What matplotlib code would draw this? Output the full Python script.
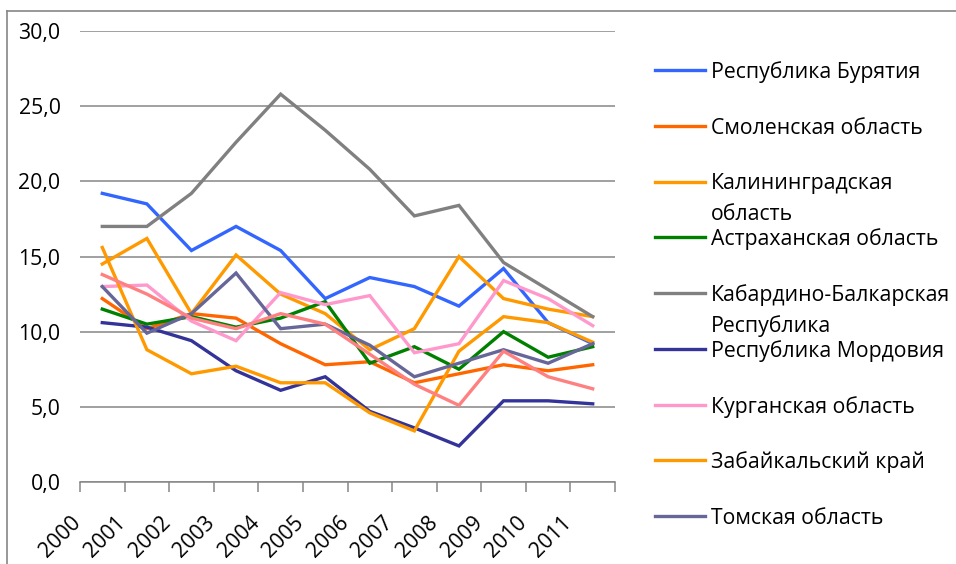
import numpy as np
import matplotlib
matplotlib.use("Agg")
import matplotlib.pyplot as plt
from matplotlib.lines import Line2D
from matplotlib.ticker import FuncFormatter

plt.rcParams['font.family'] = ['Open Sans', 'DejaVu Sans']

years = ['2000', '2001', '2002', '2003', '2004', '2005',
         '2006', '2007', '2008', '2009', '2010', '2011']

regions = ['Республика Бурятия', 'Смоленская область',
           'Калининградская\nобласть', 'Астраханская область',
           'Кабардино-Балкарская\nРеспублика', 'Республика Мордовия',
           'Курганская область', 'Забайкальский край', 'Томская область']

buryatia = [19.2, 18.5, 15.4, 17.0, 15.4, 12.2, 13.6, 13.0, 11.7, 14.2, 10.6, 9.2]
smolensk = [12.2, 10.2, 11.2, 10.9, 9.2, 7.8, 8.0, 6.6, 7.2, 7.8, 7.4, 7.8]
kaliningrad = [14.5, 16.2, 11.2, 15.1, 12.5, 11.2, 8.8, 10.2, 15.0, 12.2, 11.5, 11.0]
astrakhan = [11.5, 10.5, 11.0, 10.3, 10.9, 12.0, 7.9, 9.0, 7.5, 10.0, 8.3, 9.0]
kbr = [17.0, 17.0, 19.2, 22.6, 25.8, 23.4, 20.8, 17.7, 18.4, 14.6, 12.8, 11.0]
mordovia = [10.6, 10.3, 9.4, 7.4, 6.1, 7.0, 4.7, 3.6, 2.4, 5.4, 5.4, 5.2]
kurgan = [13.0, 13.1, 10.7, 9.4, 12.6, 11.8, 12.4, 8.6, 9.2, 13.4, 12.2, 10.4]
zabaikal = [15.6, 8.8, 7.2, 7.7, 6.6, 6.6, 4.6, 3.4, 8.7, 11.0, 10.6, 9.3]
tomsk = [13.0, 9.9, 11.2, 13.9, 10.2, 10.5, 9.1, 7.0, 7.9, 8.8, 7.9, 9.2]
# tenth series, its legend entry is cut off in the original
extra_series = [13.8, 12.5, 10.9, 10.2, 11.2, 10.5, 8.5, 6.5, 5.1, 8.7, 7.0, 6.2]

series = [buryatia, smolensk, kaliningrad, astrakhan, kbr,
          mordovia, kurgan, zabaikal, tomsk, extra_series]
colors = ['#3366FF', '#FF6600', '#FF9900', '#008000', '#808080',
          '#333399', '#FF99CC', '#FF9900', '#666699', '#FF8080']

grid_c = '#868686'
W, H = 956, 564

fig = plt.figure(figsize=(W / 100, H / 100), dpi=100)
ax = fig.add_axes([80 / W, 1 - 482 / H, 535 / W, 451 / H])

x = np.arange(len(years)) + 0.5
for vals, c in zip(series, colors):
    ax.plot(x, vals, color=c, lw=2.4, solid_joinstyle='miter', zorder=3)

ax.set_xlim(0, len(years))
ax.set_ylim(0, 30)
ax.set_yticks(np.arange(0, 31, 5))
ax.yaxis.set_major_formatter(FuncFormatter(lambda v, p: f'{v:.1f}'.replace('.', ',')))
ax.grid(axis='y', color=grid_c, lw=1.1, zorder=1)

# tick marks at category borders, labels shifted left of the centres
ax.set_xticks(np.arange(len(years) + 1), minor=True)
ax.set_xticks(x - 0.38)
ax.set_xticklabels(years, rotation=45, ha='right', va='top')
ax.tick_params(axis='x', which='minor', length=7, width=1.1, color=grid_c)
ax.tick_params(axis='x', which='major', length=0, pad=22, labelsize=15.3)
ax.tick_params(axis='y', length=0, pad=14, labelsize=15.3)

for s in ['top', 'right', 'left']:
    ax.spines[s].set_visible(False)
ax.spines['bottom'].set_color(grid_c)
ax.spines['bottom'].set_linewidth(1.1)

# chart frame (top and left edges visible)
fig.add_artist(Line2D([7 / W, 7 / W], [0, 1 - 11 / H], color=grid_c, lw=1.2))
fig.add_artist(Line2D([7 / W, 1], [1 - 11 / H, 1 - 11 / H], color=grid_c, lw=1.2))

# legend, drawn by hand to keep the wrapped entries like the original
for i, (name, c) in enumerate(zip(regions, colors)):
    yc = 70 + 55.75 * i
    fig.add_artist(Line2D([655 / W, 705 / W], [1 - yc / H, 1 - yc / H], color=c, lw=2.4))
    for k, line in enumerate(name.split('\n')):
        fig.text(711 / W, 1 - (yc + 8 + 31 * k) / H, line, fontsize=15.3,
                 va='baseline', ha='left', color='black')

fig.savefig('out.png', dpi=100)
